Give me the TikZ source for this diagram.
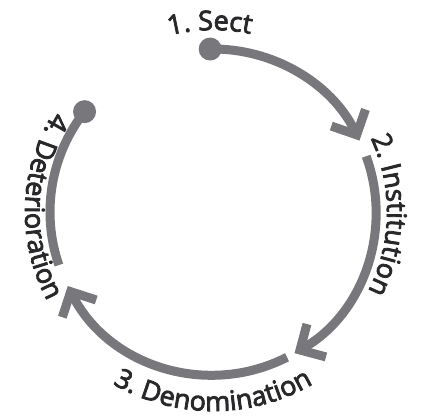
\documentclass[tikz,border=0pt]{standalone}
\usepackage{fontspec}
\setmainfont{Open Sans}
\newfontfamily\labelfont{Open Sans}[FakeBold=3]
\usetikzlibrary{arrows.meta,decorations.text}
\definecolor{cyclegray}{RGB}{120,120,124}
\definecolor{labelgray}{RGB}{40,40,42}

\begin{document}
\begin{tikzpicture}[x=1pt,y=1pt,
	cycle/.style={draw=cyclegray, line width=9pt},
	cyclearrow/.style={cycle, -{Straight Barb[sharp,length=19pt,width=38pt]}},
	dot/.style={circle, fill=cyclegray, inner sep=0pt, minimum size=23pt},
	curvedlabel/.style={decorate, decoration={text along path, text align=center,
		text color=labelgray, text={|\labelfont\fontsize{27}{27}\selectfont|#1}}}]
	\useasboundingbox (-213,-206) rectangle (209,212);

	% start and end points of the cycle
	\node (sect) [dot] at (91:163) {};
	\node (deter) [dot] at (142:163) {};
	\coordinate (inst) at (20:163);
	\coordinate (denom) at (-63:163);
	\coordinate (deterstart) at (-161:163);

	\draw[cyclearrow] (sect.center) arc[start angle=91, end angle=26, radius=163];
	\draw[cyclearrow] (inst) arc[start angle=20, end angle=-60, radius=163];
	\draw[cyclearrow] (denom) arc[start angle=-63, end angle=-153, radius=163];
	\draw[cycle] (deterstart) arc[start angle=-161, end angle=-218, radius=163];

	% labels along the circle
	\coordinate (sectlbl) at (131:182);
	\coordinate (instlbl) at (44:174);
	\coordinate (denomlbl) at (-150:199);
	\coordinate (deterlbl) at (118:188);
	\path[curvedlabel={1. Sect}] (sectlbl) arc[start angle=131, end angle=51, radius=182];
	\path[curvedlabel={2. Institution}] (instlbl) arc[start angle=44, end angle=-46, radius=174];
	\path[curvedlabel={3. Denomination}] (denomlbl) arc[start angle=-150, end angle=-30, radius=199];
	\path[curvedlabel={4. Deterioration}] (deterlbl) arc[start angle=118, end angle=238, radius=188];
\end{tikzpicture}
\end{document}
